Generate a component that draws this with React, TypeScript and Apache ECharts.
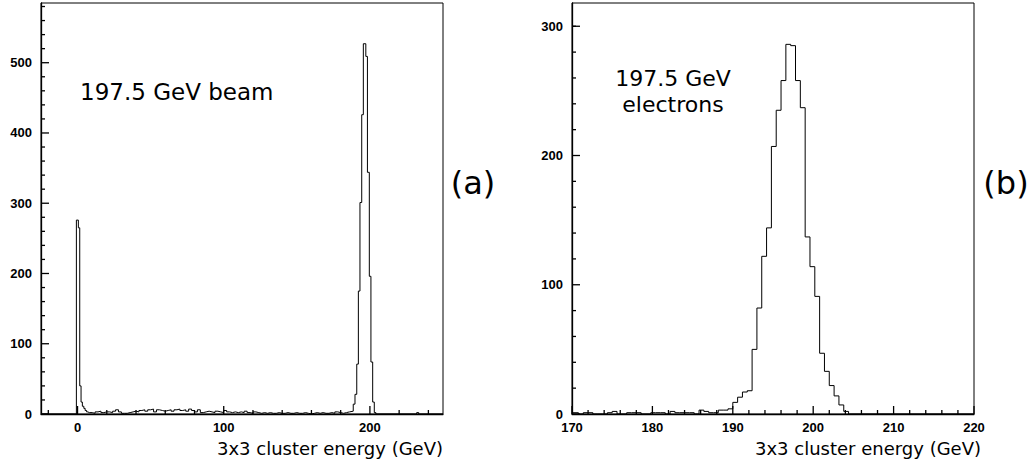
import React, { useEffect, useRef } from "react";
import * as echarts from "echarts";

// ---------- Panel (a): 197.5 GeV beam, 3x3 cluster energy ----------
const beamXMin = -25;
const beamXMax = 250;
const beamYMax = 585;
const beamXLabels = [0, 100, 200];
const beamXMinorTicks = [-20, 20, 40, 60, 80, 120, 140, 160, 180, 220, 240];
const beamYLabels = [0, 100, 200, 300, 400, 500];
const beamYMinorTicks = [20, 40, 60, 80, 120, 140, 160, 180, 220, 240, 260, 280, 320, 340, 360, 380, 420, 440, 460, 480, 520, 540, 560, 580];

const beamSpikeEdges = [-0.8, 0.55, 1.5, 2.4, 3.3, 4.3, 5.2, 6.2, 7.1];
const beamSpikeCounts = [276, 265, 40, 17, 11, 8, 5, 3, 2];
const beamBgStart = 8;
const beamBgWidth = 2;
const beamBgCounts = [
  2, 1, 3, 4, 2, 3, 3, 2, 4, 6, 3,
  1, 1, 2, 3, 4, 3, 5, 6, 4, 6,
  7, 3, 6, 5, 4, 5, 6, 4, 6, 7,
  5, 6, 4, 7, 5, 3, 6, 2, 3, 4,
  3, 2, 4, 3, 2, 5, 3, 2, 3, 2,
  3, 2, 4, 2, 1, 3, 2, 1, 2, 1,
  2, 1, 1, 2, 1, 1, 2, 1, 1, 2,
  1, 1, 2, 1, 0, 1, 2, 1, 2, 1,
  1, 2, 1, 3, 2, 1, 2, 3,
];
const beamPeakEdges = [186, 188.6, 189.8, 191.0, 192.1, 193.2, 194.4, 195.5, 197.2, 198.3, 199.6, 200.7, 201.9, 203.0];
const beamPeakCounts = [4, 14, 28, 71, 175, 301, 426, 527, 509, 344, 196, 74, 17, 2];
const beamPeakEnd = 204.1;
const beamTailEdges = [232.0];
const beamTailCounts = [2];
const beamTailEnd = 233.4;

// ---------- Panel (b): 197.5 GeV electrons ----------
const elecXMin = 170;
const elecXMax = 220;
const elecYMax = 318;
const elecXLabels = [170, 180, 190, 200, 210, 220];
const elecXMinorTicks = [172, 174, 176, 178, 182, 184, 186, 188, 192, 194, 196, 198, 202, 204, 206, 208, 212, 214, 216, 218];
const elecYLabels = [0, 100, 200, 300];
const elecYMinorTicks = [20, 40, 60, 80, 120, 140, 160, 180, 220, 240, 260, 280, 300];
const elecBinStart = 170.2;
const elecBinWidth = 0.6;
const elecCounts = [
  1, 0, 1, 1, 0, 0, 0, 1, 2, 0, 0, 1, 1, 1, 0, 0, 1, 1, 1, 0, 2, 1, 1, 1, 1, 0, 3, 2, 1, 1, 3, 3, 4,
  9, 13, 17, 18, 50, 82, 122, 144, 207, 235, 258, 286, 285, 258, 237, 137, 114, 91, 47, 33, 22, 14, 7, 2,
];

const texts = {
  beam: "197.5 GeV beam",
  elec1: "197.5 GeV",
  elec2: "electrons",
  a: "(a)",
  b: "(b)",
  xTitle: "3x3 cluster energy (GeV)",
};

function buildBeamPoints(): number[][] {
  const pts: number[][] = [[beamXMin, 0]];
  beamSpikeEdges.forEach((e, i) => pts.push([e, beamSpikeCounts[i]]));
  beamBgCounts.forEach((c, i) => pts.push([beamBgStart + i * beamBgWidth, c]));
  beamPeakEdges.forEach((e, i) => pts.push([e, beamPeakCounts[i]]));
  pts.push([beamPeakEnd, 0]);
  beamTailEdges.forEach((e, i) => pts.push([e, beamTailCounts[i]]));
  pts.push([beamTailEnd, 0]);
  pts.push([beamXMax, 0]);
  return pts;
}

function buildElecPoints(): number[][] {
  const pts: number[][] = [[elecXMin, elecCounts[0]]];
  elecCounts.forEach((c, i) => {
    if (i > 0) pts.push([elecBinStart + i * elecBinWidth, c]);
  });
  pts.push([elecBinStart + elecCounts.length * elecBinWidth, 0]);
  pts.push([elecXMax, 0]);
  return pts;
}

const labelFont = {
  color: "#000",
  fontSize: 13,
  fontWeight: "bold" as const,
  fontFamily: "Liberation Sans, Arial, sans-serif",
};

function axisOf(kind: "x" | "y", gridIndex: number, min: number, max: number, labels: number[]) {
  return {
    type: "value", gridIndex, min, max, position: kind === "x" ? "bottom" : "left",
    axisLine: { show: true, onZero: false, lineStyle: { color: "#000", width: 1.3 } },
    axisTick: { show: false },
    axisLabel: { show: true, customValues: labels, margin: kind === "x" ? 7 : 9, ...labelFont },
    splitLine: { show: false },
  };
}

// x tick marks drawn as small filled rects by a custom series: data item = [x, y, length]
function xTickSeries(axisIndex: number, values: number[], len: number) {
  return {
    type: "custom",
    coordinateSystem: "cartesian2d",
    xAxisIndex: axisIndex,
    yAxisIndex: axisIndex,
    clip: false,
    silent: true,
    z: 10,
    dimensions: ["x", "y", "len"],
    encode: { x: 0, y: 1 },
    data: values.map((v) => [v, 0, len]),
    renderItem: (_p: any, api: any) => {
      const pt = api.coord([api.value(0), api.value(1)]);
      const l = api.value(2);
      return { type: "rect", shape: { x: pt[0] - 0.65, y: pt[1] - l, width: 1.3, height: l }, style: { fill: "#000" } };
    },
  };
}

export default function App() {
  const ref = useRef<HTMLDivElement>(null);
  useEffect(() => {
    document.body.style.margin = "0";
    const chart = echarts.init(ref.current!, null, { renderer: "svg" });
    const textFont = "DejaVu Sans, sans-serif";
    const textGraphics = [
      { type: "text", x: 80, y: 92, style: { text: texts.beam, font: `23px ${textFont}`, fill: "#000", textAlign: "left", textVerticalAlign: "middle" } },
      { type: "text", x: 673, y: 78, style: { text: texts.elec1, font: `22px ${textFont}`, fill: "#000", textAlign: "center", textVerticalAlign: "middle" } },
      { type: "text", x: 673, y: 104, style: { text: texts.elec2, font: `22px ${textFont}`, fill: "#000", textAlign: "center", textVerticalAlign: "middle" } },
      { type: "text", x: 473, y: 183, style: { text: texts.a, font: `32px ${textFont}`, fill: "#000", textAlign: "center", textVerticalAlign: "middle" } },
      { type: "text", x: 1006, y: 183, style: { text: texts.b, font: `32px ${textFont}`, fill: "#000", textAlign: "center", textVerticalAlign: "middle" } },
      { type: "text", x: 330, y: 448, style: { text: texts.xTitle, font: `18px ${textFont}`, fill: "#000", textAlign: "center", textVerticalAlign: "middle" } },
      { type: "text", x: 868, y: 448, style: { text: texts.xTitle, font: `18px ${textFont}`, fill: "#000", textAlign: "center", textVerticalAlign: "middle" } },
    ];
    const option = {
      animation: false,
      backgroundColor: "#fff",
      grid: [
        { left: 41, top: 3, width: 402, height: 411, show: true, borderColor: "#000", borderWidth: 1, backgroundColor: "transparent" },
        { left: 572, top: 3, width: 402, height: 411, show: true, borderColor: "#000", borderWidth: 1, backgroundColor: "transparent" },
      ],
      xAxis: [
        axisOf("x", 0, beamXMin, beamXMax, beamXLabels),
        axisOf("x", 1, elecXMin, elecXMax, elecXLabels),
      ],
      yAxis: [
        axisOf("y", 0, 0, beamYMax, beamYLabels),
        axisOf("y", 1, 0, elecYMax, elecYLabels),
      ],
      series: [
        {
          type: "line", xAxisIndex: 0, yAxisIndex: 0, step: "end",
          data: buildBeamPoints(), showSymbol: false, symbol: "none", clip: true,
          lineStyle: { color: "#000", width: 1 },
        },
        {
          type: "line", xAxisIndex: 1, yAxisIndex: 1, step: "end",
          data: buildElecPoints(), showSymbol: false, symbol: "none", clip: true,
          lineStyle: { color: "#000", width: 1 },
        },
        xTickSeries(0, beamXMinorTicks, 4),
        xTickSeries(0, beamXLabels, 8),
        xTickSeries(1, elecXMinorTicks, 4),
        xTickSeries(1, elecXLabels, 8),
      ],
      graphic: textGraphics,
    };
    chart.setOption(option as any);

    // y-axis tick marks placed through the axes' own scales
    const yTicks: any[] = [];
    const addYTicks = (gridIndex: number, xMin: number, values: number[], len: number) => {
      values.forEach((v) => {
        const p = chart.convertToPixel({ gridIndex } as any, [xMin, v]) as number[];
        if (!p) return;
        yTicks.push({
          type: "rect",
          z: 100,
          silent: true,
          shape: { x: p[0], y: p[1] - 0.65, width: len, height: 1.3 },
          style: { fill: "#000" },
        });
      });
    };
    addYTicks(0, beamXMin, beamYMinorTicks, 4);
    addYTicks(0, beamXMin, beamYLabels, 8);
    addYTicks(1, elecXMin, elecYMinorTicks, 4);
    addYTicks(1, elecXMin, elecYLabels, 8);
    chart.setOption({ graphic: [...textGraphics, ...yTicks] } as any, { replaceMerge: ["graphic"] } as any);

    return () => chart.dispose();
  }, []);
  return <div ref={ref} style={{ width: 1034, height: 463 }} />;
}
